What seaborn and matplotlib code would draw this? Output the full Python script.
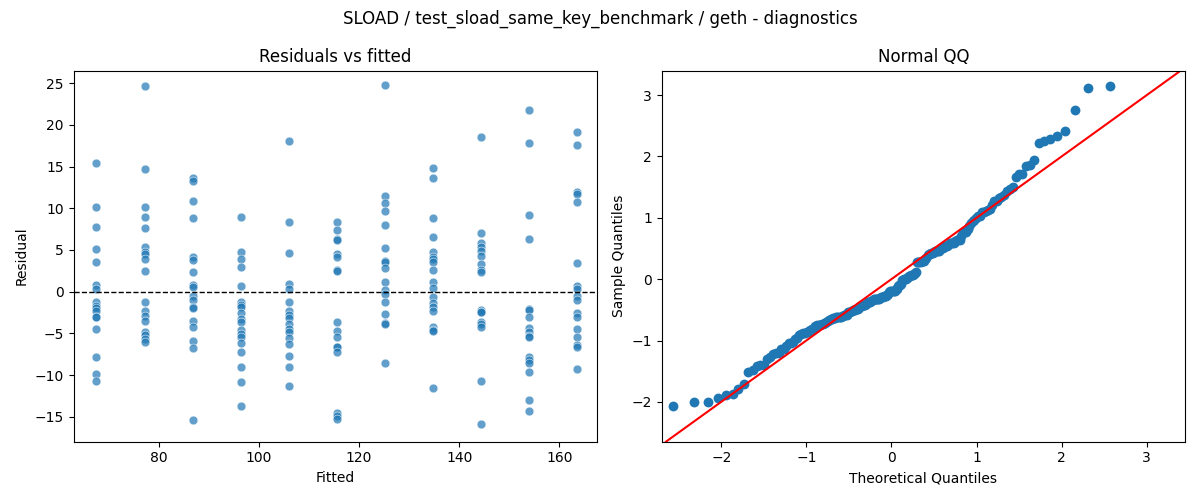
import matplotlib
matplotlib.use("Agg")
import matplotlib.pyplot as plt
import seaborn as sns
import numpy as np
import pandas as pd
from statistics import NormalDist

fitted_levels = [67.5, 77.2, 86.8, 96.4, 106.0, 115.6, 125.2, 134.8, 144.4, 154.0, 163.6]
res_groups = [
    [15.4, 10.2, 7.8, 5.1, 3.6, 0.8, 0.3, -1.3, -1.7, -2.0, -2.3, -3.0, -3.1, -4.5, -7.8, -9.9, -10.7],
    [24.6, 14.7, 10.2, 9.0, 7.6, 5.3, 4.8, 4.5, 3.9, 2.5, -1.3, -2.3, -2.9, -3.5, -4.8, -5.2, -5.7, -6.1],
    [13.6, 13.3, 10.9, 8.8, 4.2, 3.8, 2.4, 0.8, 0.5, -0.5, -1.0, -1.9, -2.0, -3.5, -4.3, -5.9, -6.8, -15.4],
    [8.9, 4.8, 3.9, 2.9, 0.7, -1.2, -1.6, -1.9, -2.6, -3.3, -3.6, -4.6, -5.1, -5.4, -6.2, -7.3, -9.1, -10.8, -13.7],
    [18.1, 8.3, 4.6, 0.9, 0.3, -1.3, -2.3, -2.8, -3.2, -3.9, -4.5, -4.9, -5.6, -6.3, -7.7, -9.1, -11.3],
    [8.3, 7.4, 6.3, 6.2, 4.5, 4.1, 2.6, 2.5, -3.7, -4.7, -5.5, -6.6, -6.7, -7.2, -14.5, -14.9, -15.3],
    [24.8, 11.5, 10.6, 9.7, 8.0, 5.2, 3.7, 3.6, 2.8, 1.2, 0.2, -0.3, -1.2, -2.7, -3.8, -3.9, -8.6],
    [14.8, 13.6, 8.8, 6.6, 4.8, 4.2, 3.9, 3.5, 2.6, 1.1, 0.4, -0.6, -1.4, -1.9, -2.3, -4.3, -4.6, -4.7, -11.5],
    [18.5, 7.0, 5.8, 5.3, 4.9, 4.3, 3.3, 2.6, 2.4, -2.2, -2.4, -2.5, -3.6, -3.9, -4.3, -10.7, -15.9],
    [21.8, 17.8, 9.2, 6.3, -2.1, -2.2, -3.0, -4.4, -4.8, -5.3, -5.5, -7.8, -8.2, -8.6, -9.6, -13.0, -14.3],
    [19.1, 17.6, 12.0, 11.7, 10.7, 3.4, 0.7, 0.3, -0.5, -1.0, -2.6, -3.1, -4.5, -5.4, -6.4, -6.6, -9.3],
]

rows = [(f, r) for f, g in zip(fitted_levels, res_groups) for r in g]
df = pd.DataFrame(rows, columns=["Fitted", "Residual"])

fig, axes = plt.subplots(1, 2, figsize=(12, 5), dpi=100)
ax = axes[0]
sns.scatterplot(data=df, x="Fitted", y="Residual", ax=ax, alpha=0.7, s=40)
ax.axhline(0, color="black", linestyle="--", linewidth=1)
ax.set_title("Residuals vs fitted")
ax.set_xlim(63, 167.5)
ax.set_ylim(-18, 26.5)

# QQ
r = np.sort(df["Residual"].values)
z = (r - r.mean()) / r.std(ddof=1)
n = len(z)
nd = NormalDist()
theo = np.array([nd.inv_cdf(i / (n + 1)) for i in range(1, n + 1)])
ax2 = axes[1]
sns.scatterplot(x=theo, y=z, ax=ax2, s=50, linewidth=0, color="#1f77b4")
ax2.axline((0, 0), slope=1, color="red")
ax2.set_xlim(-2.7, 3.45)
ax2.set_ylim(-2.65, 3.4)
ax2.set_title("Normal QQ")
ax2.set_xlabel("Theoretical Quantiles")
ax2.set_ylabel("Sample Quantiles")

fig.suptitle("SLOAD / test_sload_same_key_benchmark / geth - diagnostics")
fig.tight_layout()
fig.savefig("out.png")
